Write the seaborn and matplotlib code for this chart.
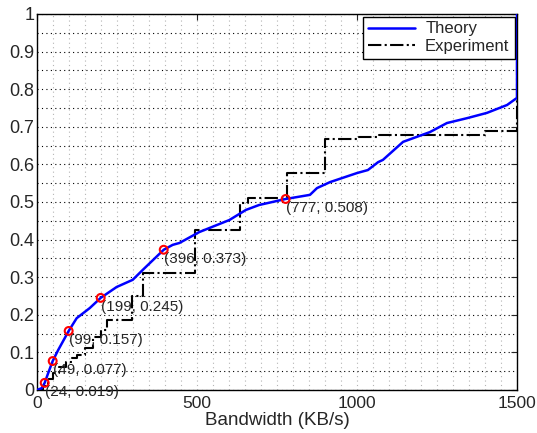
import numpy as np
import pandas as pd
import matplotlib
matplotlib.use("Agg")
import matplotlib.pyplot as plt
from matplotlib.ticker import MultipleLocator
import seaborn as sns

# Theory curve
theory_x = [0, 15, 24, 35, 49, 66, 99, 124, 165, 199, 249, 299, 330, 396, 424, 445,
            507, 601, 653, 694, 777, 853, 875, 916, 1000, 1034, 1066, 1081, 1144, 1228,
            1281, 1344, 1406, 1469, 1500, 1500]
theory_y = [0, 0.005, 0.019, 0.045, 0.077, 0.106, 0.157, 0.191, 0.218, 0.245, 0.274, 0.293,
            0.319, 0.373, 0.386, 0.391, 0.420, 0.452, 0.479, 0.492, 0.508, 0.519, 0.537,
            0.553, 0.577, 0.585, 0.606, 0.612, 0.660, 0.686, 0.710, 0.723, 0.737, 0.758,
            0.777, 1.0]

# Experiment step curve
exp_x = [0, 20, 35, 50, 70, 90, 110, 125, 150, 175, 200, 220, 297, 331, 494, 634, 660,
         781, 900, 1000, 1070, 1400, 1500]
exp_y = [0, 0.01, 0.03, 0.045, 0.06, 0.075, 0.085, 0.093, 0.112, 0.14, 0.16, 0.186, 0.25,
         0.311, 0.426, 0.497, 0.511, 0.577, 0.668, 0.673, 0.678, 0.688, 1.0]

# Marked points
mark_x = [24, 49, 99, 199, 396, 777]
mark_y = [0.019, 0.077, 0.157, 0.245, 0.373, 0.508]

theory = pd.DataFrame({"x": theory_x, "y": theory_y})
experiment = pd.DataFrame({"x": exp_x, "y": exp_y})
marks = pd.DataFrame({"x": mark_x, "y": mark_y})

sns.set_style("white")
plt.rcParams["font.family"] = ["Liberation Sans", "DejaVu Sans"]

fig = plt.figure(figsize=(5.37, 4.33), dpi=100)
ax = fig.add_axes([37 / 537, 43 / 433, 480 / 537, 376 / 433])

sns.lineplot(data=theory, x="x", y="y", sort=False, estimator=None, color="blue",
             linewidth=1.8, label="Theory", ax=ax, zorder=3)
sns.lineplot(data=experiment, x="x", y="y", sort=False, estimator=None, color="black",
             linewidth=1.5, linestyle="-.", drawstyle="steps-post", label="Experiment",
             ax=ax, zorder=2)
sns.scatterplot(data=marks, x="x", y="y", marker="o", s=32, facecolor="none",
                edgecolor="red", linewidth=1.5, ax=ax, zorder=4, legend=False)

for x, y in zip(mark_x, mark_y):
    ax.annotate(f"({x}, {y:g})", (x, y), xytext=(0, -9), textcoords="offset pixels",
                ha="left", va="center", fontsize=11)

ax.set_xlim(0, 1500)
ax.set_ylim(0, 1)
ax.set_xticks([0, 500, 1000, 1500])
ax.set_yticks(np.round(np.arange(0, 1.01, 0.1), 1))
ax.set_yticklabels([f"{v:g}" for v in np.round(np.arange(0, 1.01, 0.1), 1)])
ax.xaxis.set_minor_locator(MultipleLocator(50))
ax.yaxis.set_minor_locator(MultipleLocator(0.05))

# MATLAB style grid
ax.grid(which="both", axis="x", color="#b5b5b5", linestyle=(0, (1, 3)), linewidth=0.8)
ax.grid(which="both", axis="y", color="black", linestyle=(0, (1, 3)), linewidth=0.8)

ax.tick_params(which="major", direction="in", length=4, top=True, right=True,
               labelsize=13, pad=2)
ax.tick_params(axis="x", pad=4, labelsize=12.5)
ax.tick_params(which="minor", length=0)
for s in ax.spines.values():
    s.set_color("black")
    s.set_linewidth(1.0)

ax.set_xlabel("Bandwidth (KB/s)", fontsize=13.5, labelpad=1)
ax.set_ylabel("")

leg = ax.legend(loc="upper right", fancybox=False, edgecolor="black", framealpha=1,
                fontsize=12, borderaxespad=0.15, handlelength=2.8, borderpad=0.3,
                labelspacing=0.15, handletextpad=0.6)
leg.get_frame().set_linewidth(1.0)

fig.savefig("out.png", dpi=100)
